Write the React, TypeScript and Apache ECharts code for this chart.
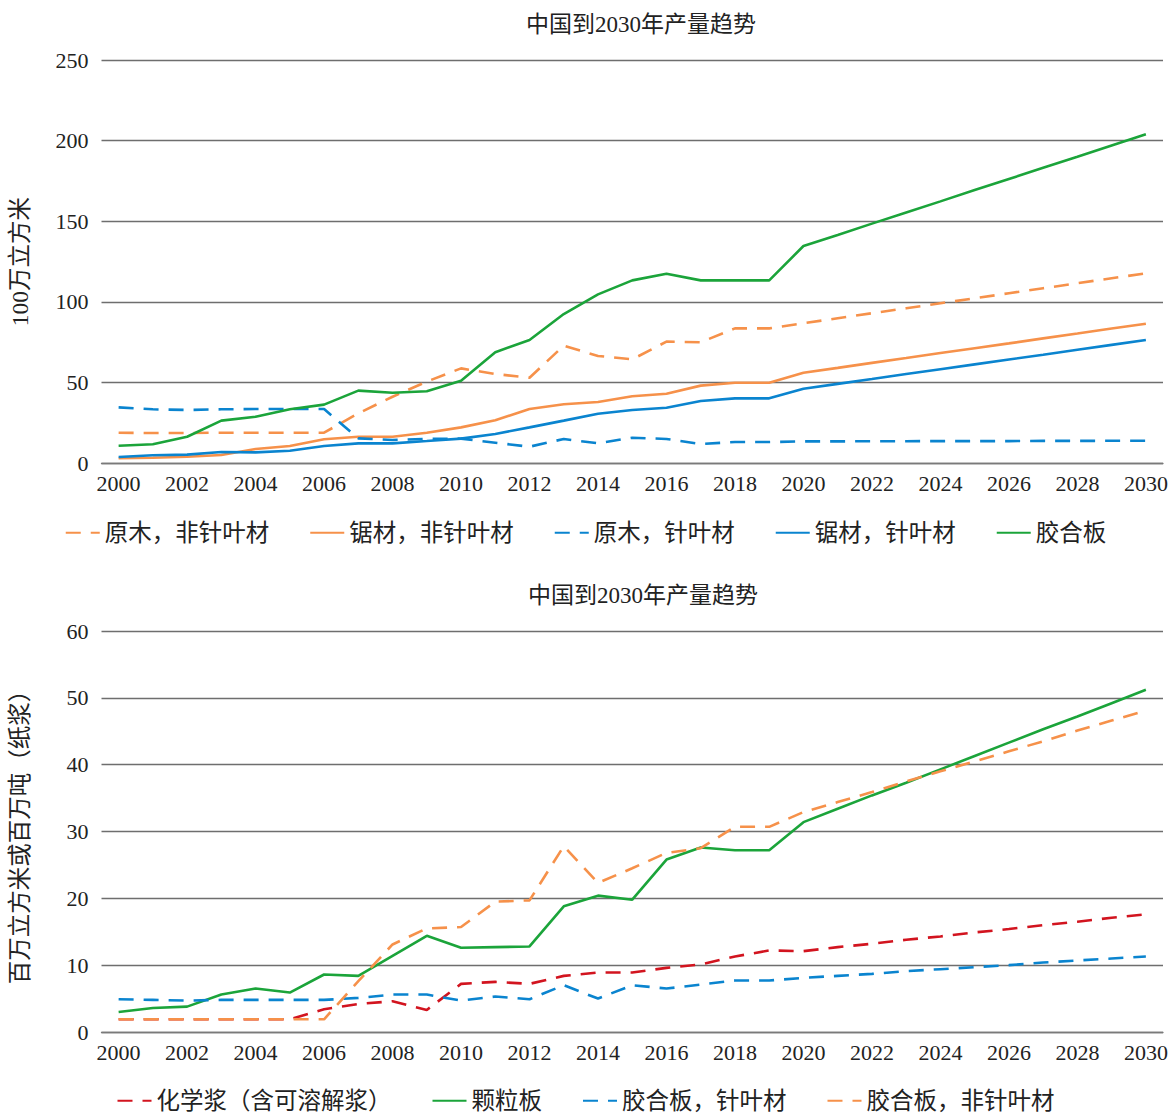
import React, { useEffect, useRef } from "react";
import * as echarts from "echarts";

const years: string[] = [];
for (let y = 2000; y <= 2030; y++) years.push(String(y));

// Top chart (100万立方米)
const logsNonConif = [18.8, 18.6, 18.6, 18.8, 18.8, 18.8, 18.8, 30.8, 41.1, 50.5, 58.7, 55.2, 52.9, 72.8, 66.4, 64.3, 75.3, 74.9, 83.5, 83.5, 86.7, 89.8, 92.9, 96.0, 99.1, 102.2, 105.3, 108.4, 111.5, 114.6, 117.7];
const sawnNonConif = [2.9, 3.3, 3.9, 5.0, 8.7, 10.5, 14.7, 16.3, 16.3, 18.8, 22.1, 26.5, 33.5, 36.4, 37.8, 41.4, 43.0, 48.0, 49.8, 49.8, 56.0, 59.0, 62.1, 65.1, 68.2, 71.2, 74.2, 77.3, 80.3, 83.4, 86.4];
const logsConif = [34.5, 33.3, 32.9, 33.3, 33.5, 33.5, 33.5, 15.3, 14.3, 15.0, 15.1, 12.6, 10.1, 14.9, 12.2, 15.7, 14.9, 11.8, 13.0, 13.0, 13.4, 13.4, 13.5, 13.5, 13.6, 13.6, 13.6, 13.7, 13.7, 13.8, 13.8];
const sawnConif = [3.7, 4.8, 5.2, 6.8, 6.6, 7.6, 10.5, 12.2, 12.2, 13.6, 15.1, 18.0, 22.1, 26.3, 30.6, 32.9, 34.3, 38.5, 40.1, 40.1, 46.1, 49.1, 52.1, 55.2, 58.2, 61.2, 64.2, 67.2, 70.3, 73.3, 76.3];
const plywood = [10.7, 11.6, 16.3, 26.3, 28.7, 33.3, 36.2, 44.9, 43.6, 44.5, 51.0, 68.7, 76.3, 92.4, 104.6, 113.3, 117.4, 113.3, 113.3, 113.3, 134.6, 141.5, 148.5, 155.4, 162.3, 169.3, 176.2, 183.1, 190.0, 197.0, 203.9];

// Bottom chart (百万立方米或百万吨)
const chemPulp = [1.9, 1.9, 1.9, 1.9, 1.9, 1.9, 3.4, 4.2, 4.6, 3.3, 7.2, 7.5, 7.2, 8.4, 8.9, 8.9, 9.6, 10.1, 11.3, 12.2, 12.1, 12.7, 13.2, 13.8, 14.3, 14.9, 15.4, 16.0, 16.5, 17.1, 17.6];
const particleboard = [3.0, 3.6, 3.8, 5.6, 6.5, 5.9, 8.6, 8.4, 11.4, 14.4, 12.6, 12.7, 12.8, 18.8, 20.4, 19.8, 25.8, 27.6, 27.2, 27.2, 31.4, 33.4, 35.4, 37.3, 39.3, 41.3, 43.3, 45.3, 47.2, 49.2, 51.2];
const plyConif = [4.9, 4.8, 4.7, 4.8, 4.8, 4.8, 4.8, 5.1, 5.6, 5.6, 4.7, 5.3, 4.9, 7.0, 5.0, 7.0, 6.5, 7.1, 7.7, 7.7, 8.1, 8.4, 8.7, 9.1, 9.4, 9.7, 10.0, 10.4, 10.7, 11.0, 11.3];
const plyNonConif = [1.9, 1.9, 1.9, 1.9, 1.9, 1.9, 1.9, 7.6, 13.1, 15.5, 15.7, 19.5, 19.7, 27.8, 22.3, 24.5, 26.8, 27.5, 30.7, 30.7, 32.9, 34.4, 35.9, 37.5, 39.0, 40.5, 42.0, 43.5, 45.1, 46.6, 48.1];

const topNames = ["原木，非针叶材", "锯材，非针叶材", "原木，针叶材", "锯材，针叶材", "胶合板"];
const bottomNames = ["化学浆（含可溶解浆）", "颗粒板", "胶合板，针叶材", "胶合板，非针叶材"];

const ORANGE = "#F6914A";
const BLUE = "#0A84CF";
const GREEN = "#1BA43A";
const RED = "#D2141F";
const FONT = "'Liberation Serif', 'Noto Sans CJK SC', serif";
const DASH = [15, 10];

export default function App() {
  const ref = useRef<HTMLDivElement>(null);
  useEffect(() => {
    document.body.style.margin = "0";
    const chart = echarts.init(ref.current!, null, { renderer: "svg" });
    const line = (name: string, data: number[], color: string, dashed: boolean, idx: number) => ({
      name,
      type: "line",
      data,
      xAxisIndex: idx,
      yAxisIndex: idx,
      showSymbol: false,
      symbol: "none",
      lineStyle: { color, width: 2.6, type: dashed ? DASH : "solid" },
      itemStyle: { color },
    });
    const xAxis = (idx: number) => ({
      type: "category",
      gridIndex: idx,
      data: years,
      boundaryGap: true,
      axisLine: { lineStyle: { color: "#7a7a7a", width: 1.3 } },
      axisTick: { show: false },
      axisLabel: { interval: 1, color: "#222", fontSize: 22, fontFamily: FONT, margin: 9 },
    });
    const yAxis = (idx: number, max: number, interval: number, name: string, gap: number) => ({
      type: "value",
      gridIndex: idx,
      min: 0,
      max,
      interval,
      name,
      nameLocation: "middle",
      nameGap: gap,
      nameTextStyle: { color: "#222", fontSize: 23.5, fontFamily: FONT },
      axisLine: { show: false },
      axisTick: { show: false },
      axisLabel: { color: "#222", fontSize: 22, fontFamily: FONT, margin: 13 },
      splitLine: { lineStyle: { color: "#6e6e6e", width: 1.3 } },
    });
    const legendCommon = {
      left: "center",
      itemWidth: 34,
      itemHeight: 14,
      itemGap: 40,
      itemStyle: { opacity: 0 },
      textStyle: { fontSize: 23.5, color: "#222", fontFamily: FONT },
    };
    chart.setOption({
      animation: false,
      backgroundColor: "#fff",
      title: [
        { text: "中国到2030年产量趋势", left: 636, textAlign: "center", top: 8, textStyle: { fontSize: 23, fontWeight: "normal", color: "#222", fontFamily: FONT } },
        { text: "中国到2030年产量趋势", left: 638, textAlign: "center", top: 579, textStyle: { fontSize: 23, fontWeight: "normal", color: "#222", fontFamily: FONT } },
      ],
      legend: [
        { ...legendCommon, data: topNames, top: 516 },
        { ...legendCommon, data: bottomNames, top: 1084 },
      ],
      grid: [
        { left: 101, right: 8, top: 60, height: 403 },
        { left: 101, right: 8, top: 631, height: 401 },
      ],
      xAxis: [xAxis(0), xAxis(1)],
      yAxis: [yAxis(0, 250, 50, "100万立方米", 70), yAxis(1, 60, 10, "百万立方米或百万吨（纸浆）", 70)],
      series: [
        line(topNames[0], logsNonConif, ORANGE, true, 0),
        line(topNames[1], sawnNonConif, ORANGE, false, 0),
        line(topNames[2], logsConif, BLUE, true, 0),
        line(topNames[3], sawnConif, BLUE, false, 0),
        line(topNames[4], plywood, GREEN, false, 0),
        line(bottomNames[0], chemPulp, RED, true, 1),
        line(bottomNames[1], particleboard, GREEN, false, 1),
        line(bottomNames[2], plyConif, BLUE, true, 1),
        line(bottomNames[3], plyNonConif, ORANGE, true, 1),
      ],
    });
    return () => chart.dispose();
  }, []);
  return <div ref={ref} style={{ position: "absolute", left: 0, top: 0, width: 1171, height: 1113 }} />;
}
